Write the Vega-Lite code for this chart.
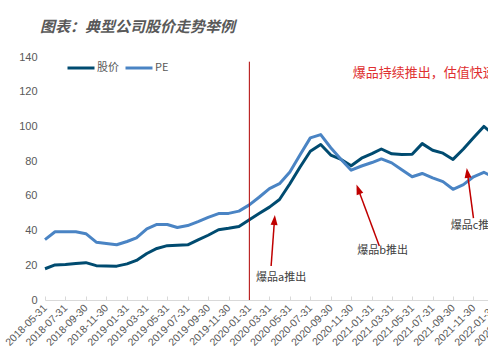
{
  "$schema": "https://vega.github.io/schema/vega-lite/v6.json",
  "width": 443,
  "height": 243,
  "autosize": {"type": "none"},
  "padding": {"left": 45, "top": 57, "right": 0, "bottom": 54},
  "background": "white",
  "title": {
    "text": "图表：典型公司股价走势举例",
    "anchor": "start",
    "frame": "group",
    "dx": -5,
    "offset": 16,
    "fontSize": 15,
    "fontWeight": "bold",
    "fontStyle": "italic",
    "color": "#595959",
    "font": "Noto Sans CJK SC"
  },
  "config": {
    "view": {"stroke": null},
    "font": "Liberation Sans",
    "legend": {
      "orient": "none",
      "legendX": 21,
      "legendY": -4,
      "direction": "horizontal",
      "title": null,
      "symbolType": "stroke",
      "symbolStrokeWidth": 3,
      "symbolSize": 729,
      "labelFontSize": 11,
      "labelColor": "#595959",
      "labelFont": "Noto Sans CJK SC",
      "labelOffset": 1,
      "columnPadding": 0,
      "padding": 0
    }
  },
  "datasets": {
    "series": [
      {"date": "2018-05-31", "股价": 18.0, "PE": 34.8},
      {"date": "2018-06-30", "股价": 20.2, "PE": 39.3},
      {"date": "2018-07-31", "股价": 20.4, "PE": 39.3},
      {"date": "2018-08-31", "股价": 21.0, "PE": 39.3},
      {"date": "2018-09-30", "股价": 21.5, "PE": 38.2},
      {"date": "2018-10-31", "股价": 19.8, "PE": 33.3},
      {"date": "2018-11-30", "股价": 19.6, "PE": 32.5},
      {"date": "2018-12-31", "股价": 19.5, "PE": 31.8},
      {"date": "2019-01-31", "股价": 20.8, "PE": 33.7},
      {"date": "2019-02-28", "股价": 22.8, "PE": 35.8},
      {"date": "2019-03-31", "股价": 26.8, "PE": 41.0},
      {"date": "2019-04-30", "股价": 29.7, "PE": 43.5},
      {"date": "2019-05-31", "股价": 31.3, "PE": 43.5},
      {"date": "2019-06-30", "股价": 31.5, "PE": 41.8},
      {"date": "2019-07-31", "股价": 31.8, "PE": 42.9},
      {"date": "2019-08-31", "股价": 34.6, "PE": 45.2},
      {"date": "2019-09-30", "股价": 37.3, "PE": 47.6},
      {"date": "2019-10-31", "股价": 40.5, "PE": 49.8},
      {"date": "2019-11-30", "股价": 41.3, "PE": 49.9},
      {"date": "2019-12-31", "股价": 42.3, "PE": 51.2},
      {"date": "2020-01-31", "股价": 46.2, "PE": 54.8},
      {"date": "2020-02-29", "股价": 49.8, "PE": 59.2},
      {"date": "2020-03-31", "股价": 53.5, "PE": 64.2},
      {"date": "2020-04-30", "股价": 57.9, "PE": 67.0},
      {"date": "2020-05-31", "股价": 67.0, "PE": 73.8},
      {"date": "2020-06-30", "股价": 76.5, "PE": 83.5},
      {"date": "2020-07-31", "股价": 85.7, "PE": 93.4},
      {"date": "2020-08-31", "股价": 89.6, "PE": 95.3},
      {"date": "2020-09-30", "股价": 83.5, "PE": 87.7},
      {"date": "2020-10-31", "股价": 81.0, "PE": 81.0},
      {"date": "2020-11-30", "股价": 77.3, "PE": 74.8},
      {"date": "2020-12-31", "股价": 81.7, "PE": 77.2},
      {"date": "2021-01-31", "股价": 84.3, "PE": 79.2},
      {"date": "2021-02-28", "股价": 87.0, "PE": 81.3},
      {"date": "2021-03-31", "股价": 84.2, "PE": 79.0},
      {"date": "2021-04-30", "股价": 83.8, "PE": 75.0},
      {"date": "2021-05-31", "股价": 84.0, "PE": 71.0},
      {"date": "2021-06-30", "股价": 90.1, "PE": 72.9},
      {"date": "2021-07-31", "股价": 86.3, "PE": 70.4},
      {"date": "2021-08-31", "股价": 84.6, "PE": 68.2},
      {"date": "2021-09-30", "股价": 81.0, "PE": 63.8},
      {"date": "2021-10-31", "股价": 87.0, "PE": 66.5},
      {"date": "2021-11-30", "股价": 93.5, "PE": 71.0},
      {"date": "2021-12-31", "股价": 100.0, "PE": 73.6},
      {"date": "2022-01-31", "股价": 95.0, "PE": 70.5}
    ],
    "arrows": [
      {"date": "2020-04-05", "v": 19.6, "date2": "2020-04-15", "v2": 46.1, "angle": 4.5},
      {"date": "2021-02-22", "v": 31.1, "date2": "2020-12-21", "v2": 63.8, "angle": -20.3},
      {"date": "2021-11-30", "v": 47.2, "date2": "2021-11-12", "v2": 73.2, "angle": -7.7}
    ],
    "notes": [
      {"date": "2020-02-20", "v": 12.5, "text": "爆品a推出"},
      {"date": "2020-12-18", "v": 28.2, "text": "爆品b推出"},
      {"date": "2021-09-23", "v": 42.8, "text": "爆品c推出"}
    ]
  },
  "encoding": {
    "x": {
      "field": "date",
      "type": "temporal",
      "title": null,
      "scale": {
        "type": "utc",
        "domain": [
          {"year": 2018, "month": 5, "date": 31, "utc": true},
          {"year": 2022, "month": 3, "date": 31, "utc": true}
        ],
        "range": [0, 469]
      },
      "axis": {
        "values": [
          {"year": 2018, "month": 5, "date": 31, "utc": true},
          {"year": 2018, "month": 7, "date": 31, "utc": true},
          {"year": 2018, "month": 9, "date": 30, "utc": true},
          {"year": 2018, "month": 11, "date": 30, "utc": true},
          {"year": 2019, "month": 1, "date": 31, "utc": true},
          {"year": 2019, "month": 3, "date": 31, "utc": true},
          {"year": 2019, "month": 5, "date": 31, "utc": true},
          {"year": 2019, "month": 7, "date": 31, "utc": true},
          {"year": 2019, "month": 9, "date": 30, "utc": true},
          {"year": 2019, "month": 11, "date": 30, "utc": true},
          {"year": 2020, "month": 1, "date": 31, "utc": true},
          {"year": 2020, "month": 3, "date": 31, "utc": true},
          {"year": 2020, "month": 5, "date": 31, "utc": true},
          {"year": 2020, "month": 7, "date": 31, "utc": true},
          {"year": 2020, "month": 9, "date": 30, "utc": true},
          {"year": 2020, "month": 11, "date": 30, "utc": true},
          {"year": 2021, "month": 1, "date": 31, "utc": true},
          {"year": 2021, "month": 3, "date": 31, "utc": true},
          {"year": 2021, "month": 5, "date": 31, "utc": true},
          {"year": 2021, "month": 7, "date": 31, "utc": true},
          {"year": 2021, "month": 9, "date": 30, "utc": true},
          {"year": 2021, "month": 11, "date": 30, "utc": true},
          {"year": 2022, "month": 1, "date": 31, "utc": true},
          {"year": 2022, "month": 3, "date": 31, "utc": true}
        ],
        "format": "%Y-%m-%d",
        "grid": false,
        "domainColor": "#d9d9d9",
        "tickColor": "#d9d9d9",
        "tickSize": -4,
        "labelPadding": 10,
        "labelAngle": -45,
        "labelAlign": "right",
        "labelBaseline": "middle",
        "labelFontSize": 10.5,
        "labelColor": "#595959",
        "labelFont": "Liberation Sans",
        "labelOverlap": false,
        "labelFlush": false,
        "labelBound": false
      }
    },
    "y": {
      "field": "v",
      "type": "quantitative",
      "title": null,
      "scale": {"domain": [0, 140], "nice": false, "zero": true},
      "axis": {
        "values": [0, 20, 40, 60, 80, 100, 120, 140],
        "grid": false,
        "domain": false,
        "ticks": false,
        "labelPadding": 8,
        "labelFontSize": 11,
        "labelColor": "#595959",
        "labelFont": "Liberation Sans"
      }
    }
  },
  "layer": [
    {
      "data": {"name": "series"},
      "transform": [{"fold": ["股价", "PE"], "as": ["series", "v"]}],
      "mark": {"type": "line", "strokeWidth": 3, "strokeJoin": "round"},
      "encoding": {
        "color": {
          "field": "series",
          "type": "nominal",
          "scale": {"domain": ["股价", "PE"], "range": ["#004b70", "#4a84c4"]}
        }
      }
    },
    {
      "data": {"values": [{"date": "2020-01-31", "v": 0, "v2": 137.3}]},
      "mark": {"type": "rule", "color": "#b00000", "strokeWidth": 1},
      "encoding": {"y2": {"field": "v2"}}
    },
    {
      "data": {"name": "arrows"},
      "mark": {"type": "rule", "color": "#c00000", "strokeWidth": 1.5},
      "encoding": {"x2": {"field": "date2"}, "y2": {"field": "v2"}}
    },
    {
      "data": {"name": "arrows"},
      "mark": {"type": "point", "shape": "M0,-1L-0.7,1L0.7,1Z", "filled": true, "size": 100, "color": "#c00000", "opacity": 1},
      "encoding": {
        "x": {"field": "date2", "type": "temporal"},
        "y": {"field": "v2", "type": "quantitative"},
        "angle": {"field": "angle", "type": "quantitative", "scale": null}
      }
    },
    {
      "data": {"name": "notes"},
      "mark": {"type": "text", "align": "left", "baseline": "middle", "fontSize": 11, "font": "Noto Sans CJK SC", "color": "#404040"},
      "encoding": {"text": {"field": "text"}}
    },
    {
      "data": {"values": [{"date": "2020-12-05", "v": 130.6, "text": "爆品持续推出，估值快速提升"}]},
      "mark": {"type": "text", "align": "left", "baseline": "middle", "fontSize": 13, "font": "Noto Sans CJK SC", "color": "#e03030"},
      "encoding": {"text": {"field": "text"}}
    }
  ]
}
